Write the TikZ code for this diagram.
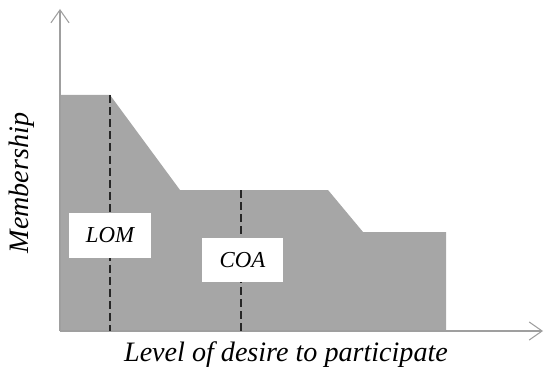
\documentclass[tikz,border=0pt]{standalone}
\usepackage{fontspec}
\setmainfont{Liberation Serif}
\usetikzlibrary{arrows.meta, positioning}

\begin{document}
\begin{tikzpicture}[x=0.02cm, y=-0.02cm]

\tikzset{axis/.style = {draw=gray!75, line width=0.6pt, -{Straight Barb[angle=70:9pt, line width=0.6pt]}}}
\tikzset{marker/.style = {draw=black!85, line width=1.1pt, dash pattern=on 4.5pt off 2.4pt}}
\tikzset{tag/.style = {fill=white, font=\fontsize{13}{15}\selectfont\itshape, minimum width=1.64cm, minimum height=0.9cm, inner sep=0pt}}
\tikzset{axislabel/.style = {font=\fontsize{16}{19}\selectfont\itshape}}
\useasboundingbox (0,0) rectangle (544,375);
% region
\fill[black!35] (61,95) -- (110,95) -- (180,190) -- (328,190) -- (363,232) -- (446,232) -- (446,331) -- (61,331) -- cycle;
% axes
\coordinate (O) at (60,331);
\coordinate (ytop) at (60,9);
\coordinate (xend) at (543,331);
\draw[axis] (O) -- (ytop);
\draw[axis] (O) -- (xend);
% markers
\coordinate (lomtop) at (110,95);
\coordinate (lombot) at (110,331);
\coordinate (coatop) at (241,190);
\coordinate (coabot) at (241,331);
\draw[marker] (lomtop) -- (lombot);
\draw[marker] (coatop) -- (coabot);
\node[tag] (lom) at (110,235.5) {LOM};
\node[tag] (coa) at (242.5,260) {COA};
% labels
\node[axislabel, rotate=90] (ylab) at (22,183) {Membership};
\node[axislabel] (xlab) at (286,355) {Level of desire to participate};
\end{tikzpicture}
\end{document}
